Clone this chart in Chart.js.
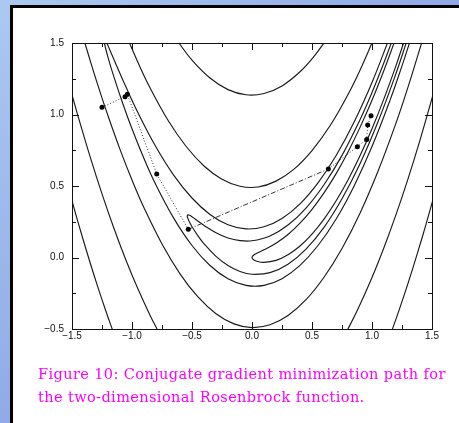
<!DOCTYPE html>
<html lang="en">
<head>
<meta charset="UTF-8">
<title>Conjugate gradient path - Rosenbrock</title>
<script src="https://cdn.jsdelivr.net/npm/chart.js"></script>
<style>
  html, body { margin: 0; padding: 0; }
  body {
    width: 459px; height: 423px; overflow: hidden; position: relative;
    background: linear-gradient(135deg, #abc9f1 0%, #8ea6e6 55%, #7d93de 100%);
  }
  .panel {
    position: absolute; left: 10px; top: 5px; right: -5px; bottom: -5px;
    background: #fff; border-left: 3px solid #000; border-top: 3px solid #000;
  }
  #chart { position: absolute; left: 0; top: 0; }
  .caption {
    position: absolute; left: 38px; top: 363px;
    color: #ff00ff; font-family: "DejaVu Serif", serif; font-size: 14.5px;
    line-height: 23px; letter-spacing: 0.4px; white-space: nowrap;
  }
</style>
</head>
<body>
<div class="panel"></div>
<canvas id="chart" width="459" height="423"></canvas>
<div class="caption">Figure 10: Conjugate gradient minimization path for<br>the two-dimensional Rosenbrock function.</div>

<script>
// axis ticks
const xTicks = [-1.5, -1.0, -0.5, 0.0, 0.5, 1.0, 1.5];
const xTickLabels = ['\u22121.5', '\u22121.0', '\u22120.5', '0.0', '0.5', '1.0', '1.5'];
const yTicks = [-0.5, 0.0, 0.5, 1.0, 1.5];
const yTickLabels = ['\u22120.5', '0.0', '0.5', '1.0', '1.5'];
const xMinor = [-1.25, -0.75, -0.25, 0.25, 0.75, 1.25];
const yMinor = [-0.25, 0.25, 0.75, 1.25];

// contour lines, [x, y]
const level1 = [[1.19,1.514],[1.1,1.31],[1.0,1.1],[0.9,0.91],[0.8,0.738],[0.7,0.585],[0.6,0.452],[0.5,0.337],[0.4,0.24],[0.3,0.161],[0.2,0.1],[0.1,0.054],[0.04,0.03],[0.01,0.014],[0,0],[0.01,-0.014],[0.04,-0.026],[0.1,-0.034],[0.2,-0.02],[0.3,0.019],[0.4,0.08],[0.5,0.163],[0.6,0.268],[0.7,0.395],[0.8,0.542],[0.9,0.711],[1.0,0.9],[1.1,1.111],[1.2,1.342],[1.27,1.517]];
const level2 = [[1.165,1.51],[1.1,1.364],[1.0,1.154],[0.9,0.964],[0.75,0.714],[0.6,0.509],[0.45,0.346],[0.3,0.227],[0.15,0.151],[0,0.117],[-0.1,0.118],[-0.2,0.136],[-0.3,0.173],[-0.4,0.224],[-0.45,0.254],[-0.5,0.285],[-0.52,0.295],[-0.535,0.298],[-0.5395,0.291],[-0.535,0.275],[-0.52,0.246],[-0.5,0.215],[-0.45,0.151],[-0.4,0.096],[-0.3,0.008],[-0.2,-0.056],[-0.1,-0.098],[0,-0.117],[0.15,-0.106],[0.3,-0.047],[0.45,0.059],[0.6,0.211],[0.75,0.411],[0.9,0.656],[1.05,0.949],[1.2,1.287],[1.29,1.513]];
const level5 = [[1.14,1.524],[1.0,1.224],[0.85,0.946],[0.7,0.712],[0.55,0.522],[0.4,0.375],[0.25,0.273],[0.1,0.215],[-0.05,0.2],[-0.2,0.229],[-0.35,0.301],[-0.5,0.416],[-0.65,0.573],[-0.8,0.773],[-0.95,1.012],[-1.05,1.192],[-1.13,1.345],[-1.18,1.442],[-1.211,1.5],[-1.236,1.528],[-1.2305,1.5],[-1.2,1.4],[-1.15,1.261],[-1.08,1.084],[-1.0,0.9],[-0.9,0.692],[-0.8,0.507],[-0.65,0.272],[-0.5,0.084],[-0.35,-0.056],[-0.2,-0.149],[-0.05,-0.195],[0.1,-0.195],[0.25,-0.148],[0.4,-0.055],[0.55,0.084],[0.7,0.268],[0.85,0.499],[1.0,0.776],[1.15,1.099],[1.25,1.34],[1.32,1.52]];
const level25Upper = [[-1.03,1.518],[-0.95,1.363],[-0.85,1.187],[-0.7,0.96],[-0.55,0.778],[-0.4,0.64],[-0.25,0.547],[-0.1,0.498],[0.05,0.493],[0.2,0.534],[0.35,0.618],[0.5,0.748],[0.65,0.921],[0.8,1.14],[0.9,1.31],[1.01,1.52]];
const level25Lower = [[-1.4,1.521],[-1.35,1.381],[-1.28,1.193],[-1.2,0.991],[-1.1,0.756],[-1.0,0.542],[-0.9,0.348],[-0.75,0.094],[-0.6,-0.114],[-0.45,-0.276],[-0.3,-0.393],[-0.15,-0.464],[0,-0.49],[0.15,-0.47],[0.3,-0.405],[0.45,-0.295],[0.6,-0.138],[0.75,0.063],[0.9,0.31],[1.05,0.603],[1.2,0.94],[1.3,1.191],[1.42,1.518]];
const level130Upper = [[-0.62,1.513],[-0.5,1.38],[-0.35,1.255],[-0.2,1.174],[-0.05,1.138],[0.1,1.147],[0.25,1.2],[0.4,1.299],[0.52,1.41],[0.62,1.524]];
const level130Left = [[-1.52,1.198],[-1.45,0.989],[-1.35,0.707],[-1.25,0.445],[-1.15,0.203],[-1.05,-0.019],[-0.95,-0.221],[-0.85,-0.403],[-0.77,-0.534]];
const level130Right = [[0.78,-0.532],[0.88,-0.366],[1.0,-0.14],[1.1,0.07],[1.2,0.3],[1.3,0.55],[1.4,0.821],[1.52,1.171]];
const level350Left = [[-1.52,0.457],[-1.45,0.248],[-1.38,0.049],[-1.3,-0.167],[-1.22,-0.369],[-1.15,-0.536]];
const level350Right = [[1.15,-0.548],[1.22,-0.382],[1.3,-0.181],[1.38,0.034],[1.45,0.232],[1.52,0.44]];

// minimization path
const pathPts = [[-1.25,1.05],[-1.058,1.125],[-1.039,1.141],[-0.794,0.584],[-0.531,0.197],[0.636,0.619],[0.878,0.775],[0.956,0.826],[0.964,0.927],[0.992,0.992]];

const contours = [level1, level2, level5, level25Upper, level25Lower, level130Upper,
                  level130Left, level130Right, level350Left, level350Right];

const toXY = pts => pts.map(p => ({x: p[0], y: p[1]}));

// frame + inward ticks on all four sides
const frameTicks = {
  id: 'frameTicks',
  afterDatasetsDraw(chart) {
    const {ctx, chartArea: a, scales: {x, y}} = chart;
    ctx.save();
    ctx.strokeStyle = '#111';
    ctx.lineWidth = 1;
    ctx.strokeRect(a.left + 0.5, a.top + 0.5, a.right - a.left, a.bottom - a.top);
    ctx.beginPath();
    const xt = (v, len) => {
      const px = Math.round(x.getPixelForValue(v)) + 0.5;
      ctx.moveTo(px, a.bottom); ctx.lineTo(px, a.bottom - len);
      ctx.moveTo(px, a.top); ctx.lineTo(px, a.top + len);
    };
    const yt = (v, len) => {
      const py = Math.round(y.getPixelForValue(v)) + 0.5;
      ctx.moveTo(a.left, py); ctx.lineTo(a.left + len, py);
      ctx.moveTo(a.right, py); ctx.lineTo(a.right - len, py);
    };
    xTicks.forEach(v => xt(v, 7));
    xMinor.forEach(v => xt(v, 4));
    yTicks.forEach(v => yt(v, 7));
    yMinor.forEach(v => yt(v, 4));
    ctx.stroke();
    ctx.restore();
  }
};

const tickFont = {family: 'Liberation Sans', size: 10};

new Chart(document.getElementById('chart'), {
  type: 'scatter',
  data: {
    datasets: [
      {
        data: toXY(pathPts),
        showLine: true,
        borderColor: '#333',
        borderWidth: 1,
        borderDash: [1, 2],
        tension: 0,
        pointRadius: 2.5,
        pointBackgroundColor: '#000',
        pointBorderWidth: 0,
        segment: {
          borderDash: c => c.p0DataIndex === 4 ? [5, 2, 1, 2] : [1, 2]
        }
      },
      ...contours.map(pts => ({
        data: toXY(pts),
        showLine: true,
        borderColor: '#1a1a1a',
        borderWidth: 1.15,
        pointRadius: 0,
        tension: 0.4
      }))
    ]
  },
  options: {
    responsive: false,
    animation: false,
    events: [],
    layout: {padding: {top: 43, right: 27, left: 0, bottom: 0}},
    elements: {line: {capBezierPoints: false}},
    plugins: {legend: {display: false}, tooltip: {enabled: false}},
    scales: {
      x: {
        type: 'linear', min: -1.5, max: 1.5,
        grid: {display: false, drawTicks: false},
        border: {display: false},
        afterBuildTicks: s => { s.ticks = xTicks.map(v => ({value: v})); },
        afterFit: s => { s.height = 94; },
        ticks: {
          autoSkip: false, maxRotation: 0, padding: 1, color: '#111', font: tickFont,
          callback: (v, i) => xTickLabels[i]
        }
      },
      y: {
        type: 'linear', min: -0.5, max: 1.5,
        grid: {display: false, drawTicks: false},
        border: {display: false},
        afterBuildTicks: s => { s.ticks = yTicks.map(v => ({value: v})); },
        afterFit: s => { s.width = 72; },
        ticks: {
          autoSkip: false, padding: 8, color: '#111', font: tickFont,
          callback: (v, i) => yTickLabels[i]
        }
      }
    }
  },
  plugins: [frameTicks]
});
</script>
</body>
</html>
